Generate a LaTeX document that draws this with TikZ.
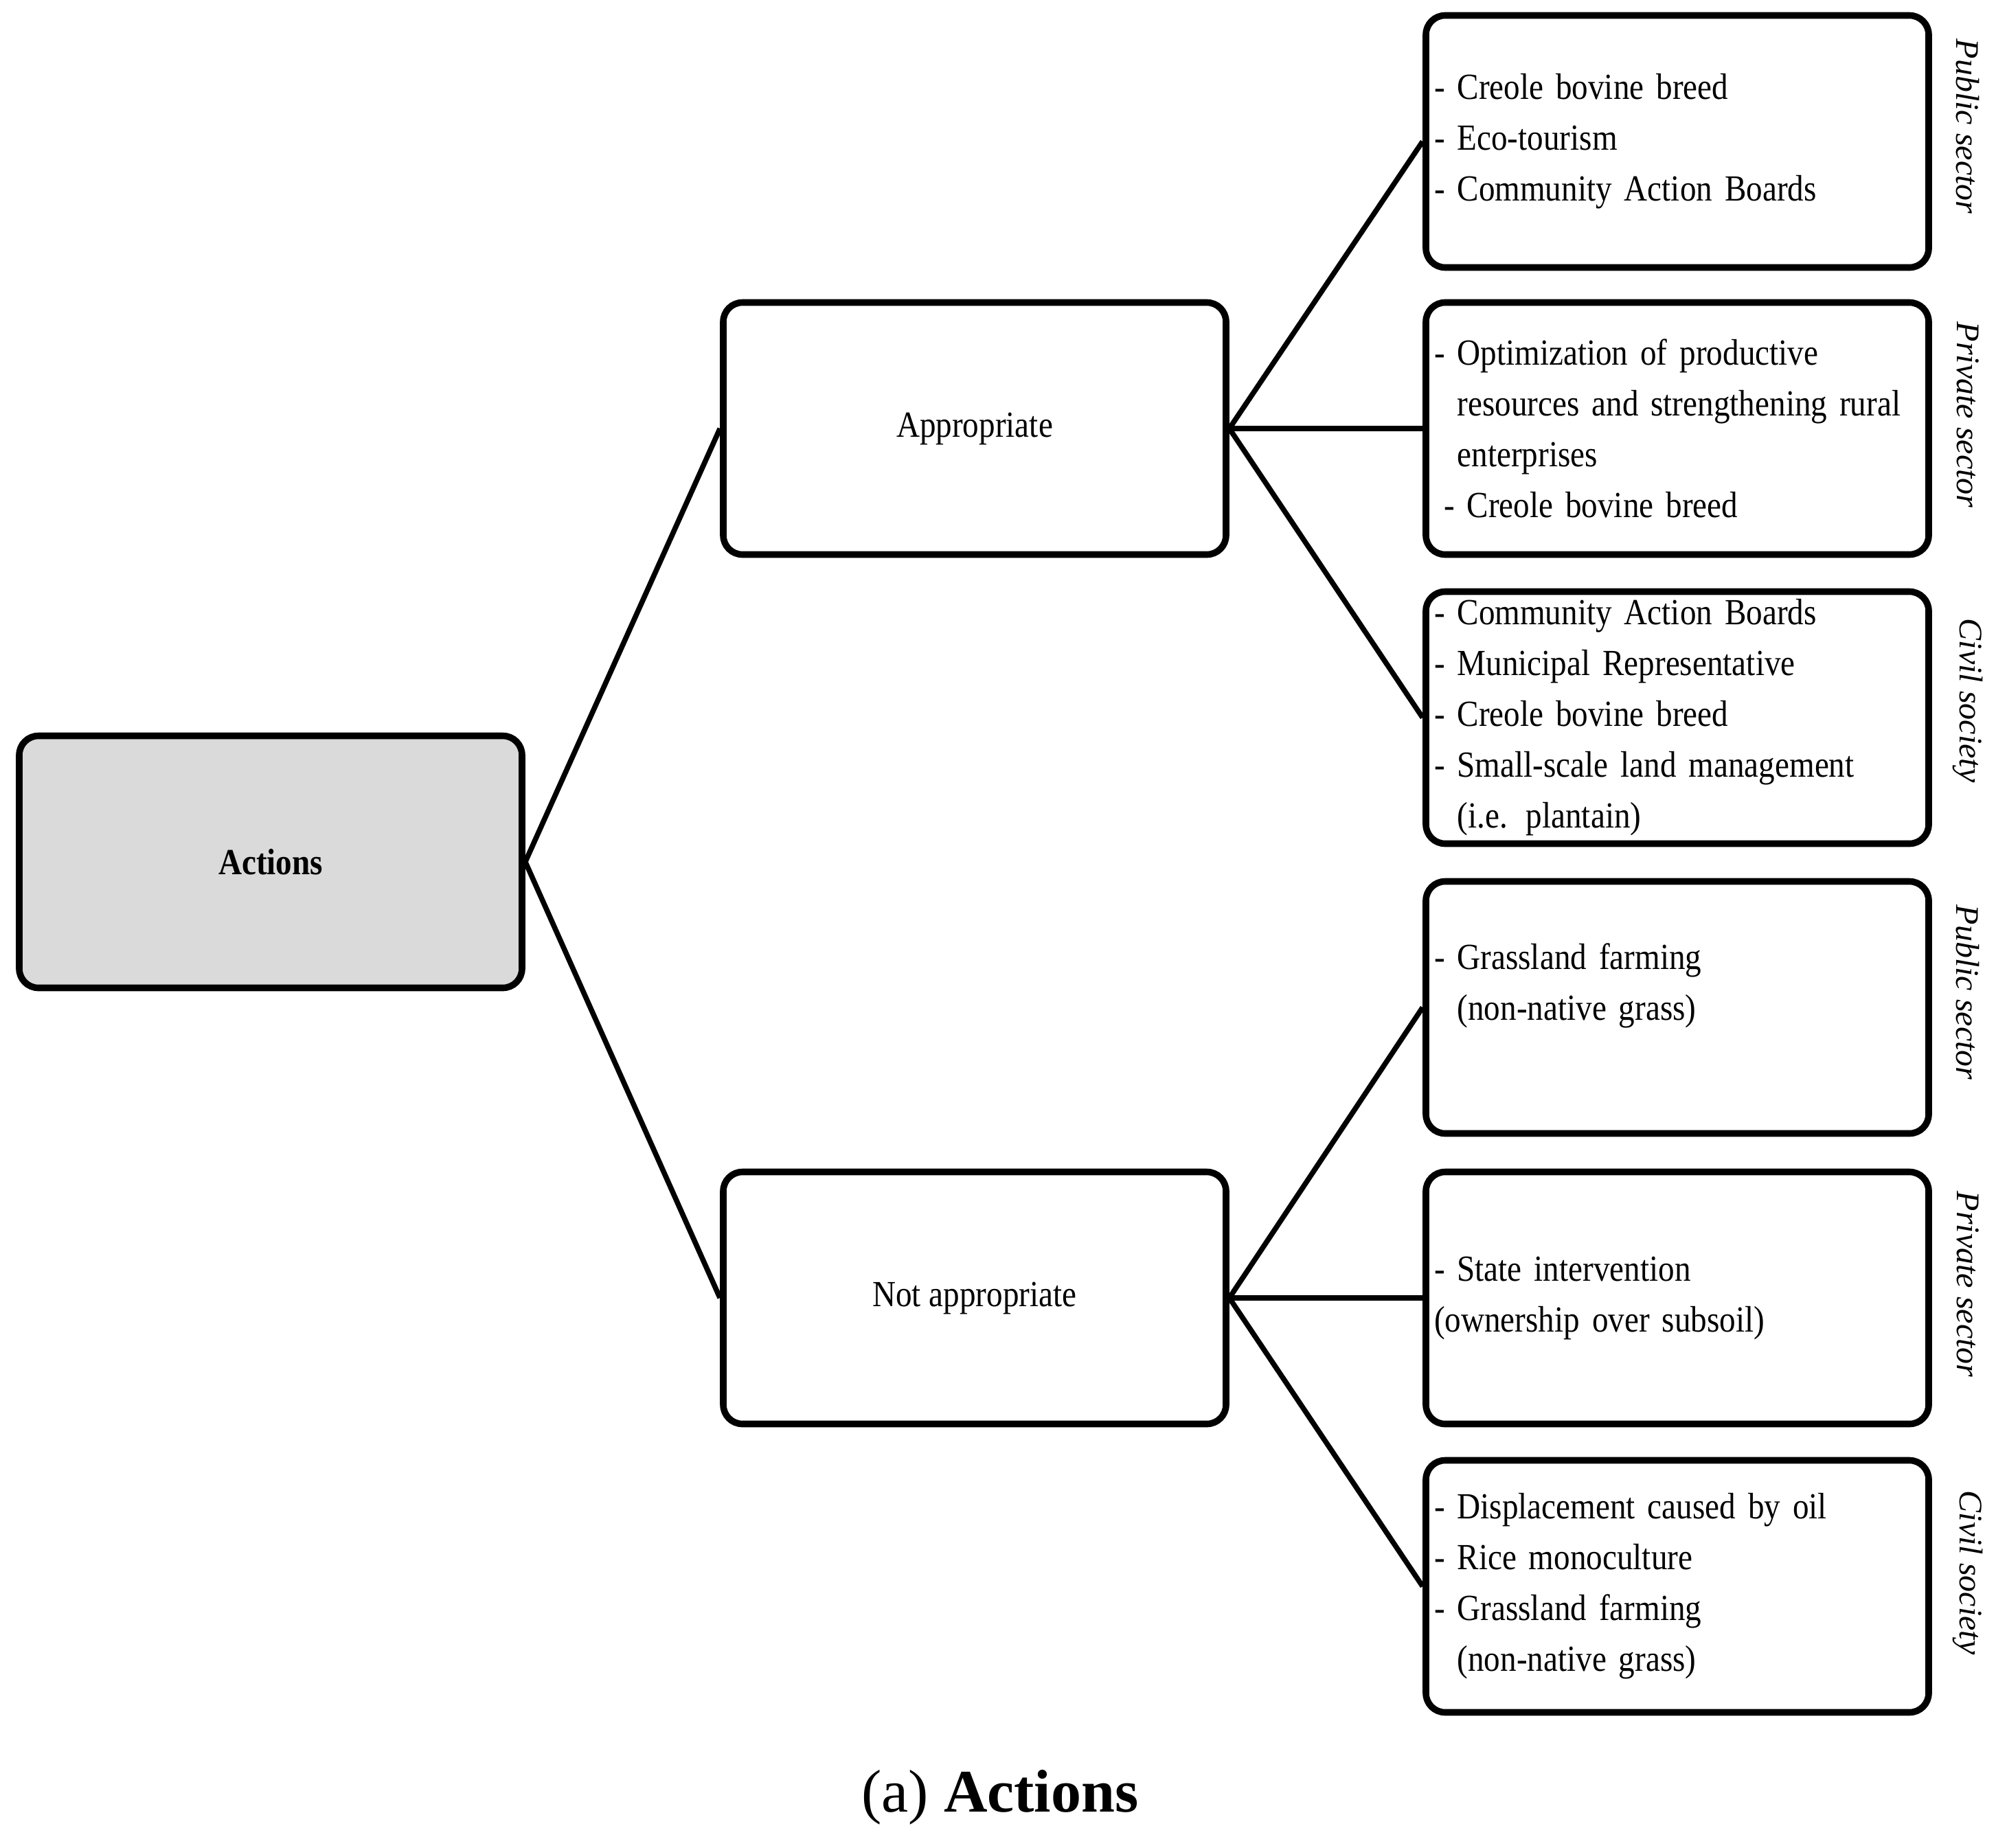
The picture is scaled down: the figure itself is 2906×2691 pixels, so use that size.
\documentclass[tikz,border=0pt]{standalone}
\usepackage{fontspec}
\setmainfont{Liberation Serif}
\newfontfamily\condfont[FakeStretch=0.88]{Liberation Serif}
\begin{document}
\begin{tikzpicture}[x=0.25pt,y=-0.25pt,
  box/.style={draw=black, line width=2.4pt, rounded corners=7pt, minimum width=183pt, minimum height=91.75pt, inner sep=0pt, font=\condfont\fontsize{13.4}{18.5}\selectfont},
  listbox/.style={box, text width=177pt, align=left, inner xsep=3pt},
  conn/.style={line width=1.9pt},
  side/.style={rotate=-90, font=\itshape\fontsize{12}{14}\selectfont}]
\useasboundingbox (0,0) rectangle (2906,2691);

% main nodes
\node[box, fill={rgb,255:red,218;green,218;blue,218}] (act) at (394,1255) {\textbf{Actions}};
\node[box] (app) at (1419,624) {Appropriate};
\node[box] (napp) at (1419,1890) {Not appropriate};

% right boxes
\node[listbox] (r1) at (2442,206) {- Creole bovine breed\\- Eco-tourism\\- Community Action Boards};
\node[listbox] (r2) at (2442,624) {- Optimization of productive\\\hphantom{- }resources and strengthening rural\\\hphantom{- }enterprises\\\hspace*{3.5pt}- Creole bovine breed};
\node[listbox] (r3) at (2442,1045) {- Community Action Boards\\- Municipal Representative\\- Creole bovine breed\\- Small-scale land management\\\hphantom{- }(i.e. plantain)};
\node[listbox] (r4) at (2442,1467) {- Grassland farming\\\hphantom{- }(non-native grass)\\\mbox{}};
\node[listbox] (r5) at (2442,1890) {- State intervention\\(ownership over subsoil)};
\node[listbox] (r6) at (2442,2310) {- Displacement caused by oil\\- Rice monoculture\\- Grassland farming\\\hphantom{- }(non-native grass)};

% side labels
\node[side] (s1) at (2865,184) {Public sector};
\node[side] (s2) at (2865,604) {Private sector};
\node[side] (s3) at (2865,1020) {Civil society};
\node[side] (s4) at (2865,1445) {Public sector};
\node[side] (s5) at (2865,1870) {Private sector};
\node[side] (s6) at (2865,2290) {Civil society};

% connectors
\draw[conn] (act.east) -- (app.west);
\draw[conn] (act.east) -- (napp.west);
\draw[conn] (app.east) -- (r1.west);
\draw[conn] (app.east) -- (r2.west);
\draw[conn] (app.east) -- (r3.west);
\draw[conn] (napp.east) -- (r4.west);
\draw[conn] (napp.east) -- (r5.west);
\draw[conn] (napp.east) -- (r6.west);

% caption
\node (cap) at (1456,2617) {\fontsize{22}{26}\selectfont (a) \textbf{Actions}};
\end{tikzpicture}
\end{document}
